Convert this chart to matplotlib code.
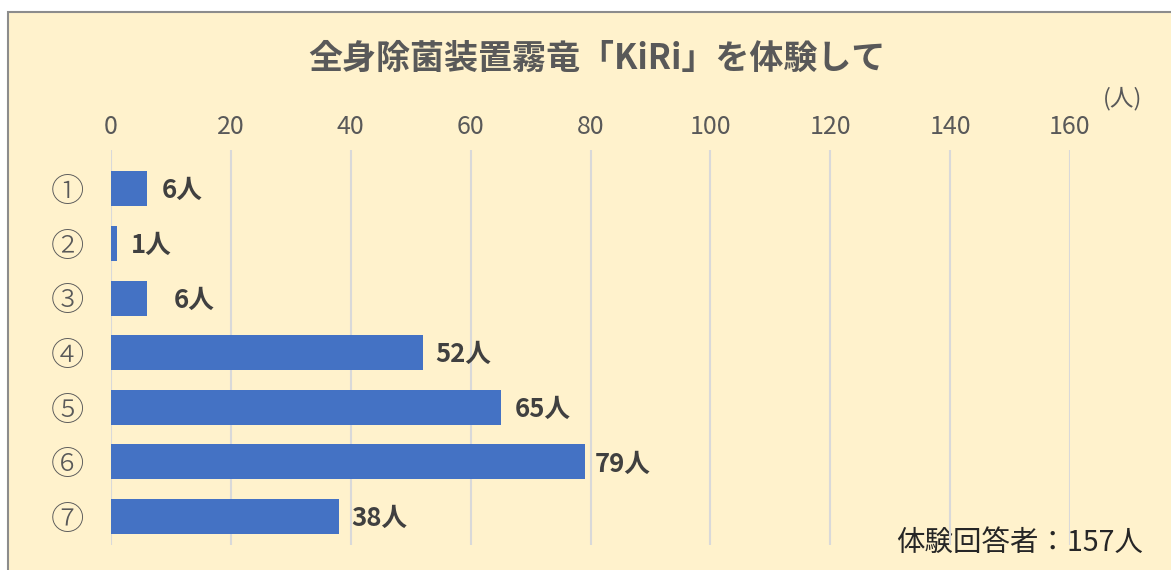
import matplotlib
matplotlib.use("Agg")
import matplotlib.pyplot as plt
from matplotlib.patches import Rectangle
import matplotlib.transforms as mtransforms

plt.rcParams['font.family'] = ['Noto Sans CJK JP', 'DejaVu Sans']

categories = ['①', '②', '③', '④', '⑤', '⑥', '⑦']
values = [6, 1, 6, 52, 65, 79, 38]
labels = ['6人', '1人', '6人', '52人', '65人', '79人', '38人']
label_offsets_px = [15, 14, 27, 13, 14, 10, 13]
xticks = [0, 20, 40, 60, 80, 100, 120, 140, 160]
title = '全身除菌装置霧竜「KiRi」を体験して'
unit = '(人)'
note = '体験回答者：157人'

W, H = 1171, 570
fig = plt.figure(figsize=(W / 100, H / 100), dpi=100)
fig.patch.set_facecolor('white')

# chart area background and border
bg = Rectangle((8 / W, -0.05), 1.2, (H - 12) / H + 0.05, transform=fig.transFigure,
               facecolor='#FFF2CC', edgecolor='#8C8C8C', linewidth=1.5, zorder=-10)
fig.patches.append(bg)

ax = fig.add_axes([111 / W, 1 - 545 / H, (1070 - 111) / W, (545 - 150) / H], zorder=5)
ax.set_facecolor('none')
y = list(range(len(categories)))
ax.barh(y, values, height=0.64, color='#4472C4', zorder=3)
ax.set_xlim(0, 160)
ax.set_ylim(6.52, -0.71)
ax.set_xticks(xticks)
ax.xaxis.tick_top()
ax.tick_params(axis='x', length=0, pad=7, labelsize=18, labelcolor='#595959')
ax.set_yticks(y)
ax.set_yticklabels(categories, family=['Noto Sans CJK JP', 'DejaVu Sans'],
                   fontweight='light')
ax.tick_params(axis='y', length=0, pad=19, labelsize=24, labelcolor='#595959')
ax.grid(axis='x', color='#D9D9D9', linewidth=1.5, zorder=0)
ax.set_axisbelow(True)
for s in ax.spines.values():
    s.set_visible(False)

for i, (v, lab, off) in enumerate(zip(values, labels, label_offsets_px)):
    tr = mtransforms.offset_copy(ax.transData, fig=fig, x=off, y=-2, units='dots')
    ax.text(v, i, lab, transform=tr, ha='left', va='center', fontsize=18.5,
            fontweight='bold', color='#404040', zorder=4)

fig.text(597 / W, 1 - 58 / H, title, ha='center', va='center', fontsize=24.5,
         fontweight='bold', color='#595959')
fig.text(1123 / W, 1 - 99 / H, unit, ha='center', va='center', fontsize=17,
         color='#595959')
fig.text(1143 / W, 1 - 543 / H, note, ha='right', va='center', fontsize=20.5,
         color='#262626')

fig.savefig('out.png', dpi=100)
